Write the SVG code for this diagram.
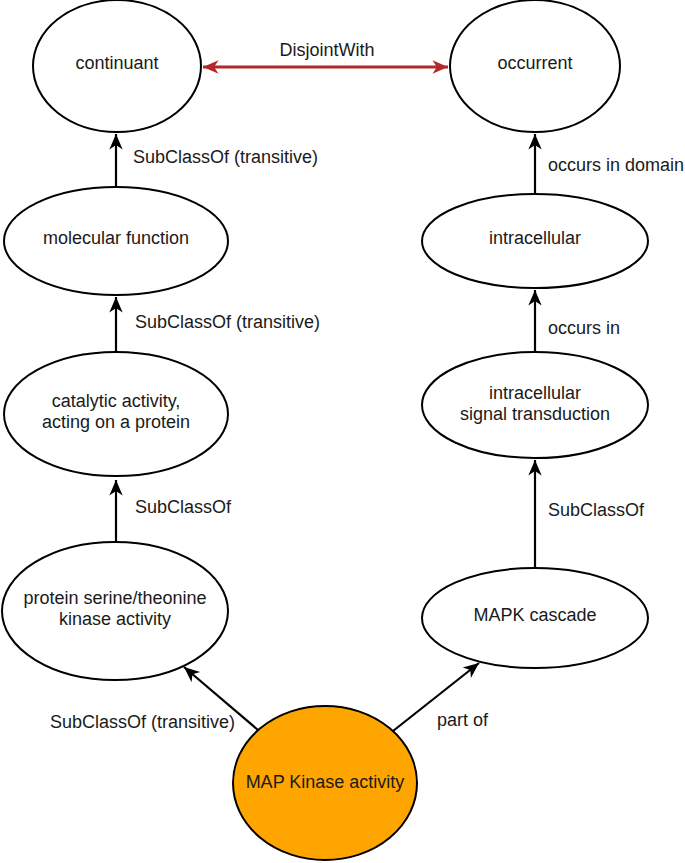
<svg xmlns="http://www.w3.org/2000/svg" width="685" height="863" viewBox="0 0 685 863">
<style>
.n{fill:#fff;stroke:#000;stroke-width:2}
.o{fill:#ffa500;stroke:#000;stroke-width:2}
text{font-family:"Liberation Sans",Arial,sans-serif;font-size:18px;fill:#1a1a1a}
.c{text-anchor:middle}
.e{stroke:#000;stroke-width:2.2;fill:none}
.r{stroke:#b3292b;stroke-width:2.8;fill:none}
</style>
<defs>
<marker id="ah" markerUnits="userSpaceOnUse" markerWidth="20" markerHeight="20" viewBox="-16 -8 18 16" refX="0" refY="0" orient="auto">
<path d="M0,0 L-14,-6 L-10,0 L-14,6 Z" fill="#000"/>
</marker>
<marker id="rh" markerUnits="userSpaceOnUse" markerWidth="20" markerHeight="20" viewBox="-16 -8 18 16" refX="0" refY="0" orient="auto">
<path d="M0,0 L-14,-6 L-10,0 L-14,6 Z" fill="#b3292b"/>
</marker>
<marker id="rs" markerUnits="userSpaceOnUse" markerWidth="20" markerHeight="20" viewBox="-2 -8 18 16" refX="0" refY="0" orient="auto">
<path d="M0,0 L14,-6 L10,0 L14,6 Z" fill="#b3292b"/>
</marker>
</defs>
<g id="connectors">
<line class="r" x1="203" y1="67" x2="448" y2="67" marker-start="url(#rs)" marker-end="url(#rh)"/>
<line class="e" x1="116" y1="187" x2="116" y2="134" marker-end="url(#ah)"/>
<line class="e" x1="116" y1="352" x2="116" y2="297" marker-end="url(#ah)"/>
<line class="e" x1="116" y1="542" x2="116" y2="480" marker-end="url(#ah)"/>
<line class="e" x1="535" y1="195" x2="535" y2="134" marker-end="url(#ah)"/>
<line class="e" x1="535" y1="353" x2="535" y2="290" marker-end="url(#ah)"/>
<line class="e" x1="535" y1="568" x2="535" y2="460" marker-end="url(#ah)"/>
<line class="e" x1="258" y1="730" x2="184" y2="667" marker-end="url(#ah)"/>
<line class="e" x1="393" y1="731" x2="479" y2="663" marker-end="url(#ah)"/>
<text class="c" x="327" y="56">DisjointWith</text>
<text x="133" y="163">SubClassOf (transitive)</text>
<text x="135" y="328">SubClassOf (transitive)</text>
<text x="135" y="513">SubClassOf</text>
<text x="548" y="171">occurs in domain</text>
<text x="548" y="334">occurs in</text>
<text x="548" y="516">SubClassOf</text>
<text x="235" y="728" text-anchor="end">SubClassOf (transitive)</text>
<text x="437" y="726">part of</text>
</g>
<g id="continuant"><ellipse class="n" cx="117" cy="66" rx="84" ry="66"/><text class="c" x="117" y="69">continuant</text></g>
<g id="occurrent"><ellipse class="n" cx="535" cy="66" rx="85" ry="66"/><text class="c" x="535" y="69">occurrent</text></g>
<g id="molecular-function"><ellipse class="n" cx="116" cy="241" rx="112" ry="54"/><text class="c" x="116" y="244">molecular function</text></g>
<g id="intracellular"><ellipse class="n" cx="535" cy="241" rx="113" ry="47"/><text class="c" x="535" y="244">intracellular</text></g>
<g id="catalytic-activity"><ellipse class="n" cx="116" cy="414" rx="112" ry="62"/><text class="c" x="116" y="407">catalytic activity,</text><text class="c" x="116" y="428">acting on a protein</text></g>
<g id="intracellular-signal-transduction"><ellipse class="n" cx="535" cy="405" rx="113" ry="53"/><text class="c" x="535" y="399">intracellular</text><text class="c" x="535" y="420">signal transduction</text></g>
<g id="protein-kinase-activity"><ellipse class="n" cx="115" cy="611" rx="113" ry="69"/><text class="c" x="115" y="604">protein serine/theonine</text><text class="c" x="115" y="625">kinase activity</text></g>
<g id="mapk-cascade"><ellipse class="n" cx="535" cy="618" rx="113" ry="50"/><text class="c" x="535" y="621">MAPK cascade</text></g>
<g id="map-kinase-activity"><ellipse class="o" cx="325" cy="783" rx="92" ry="77"/><text class="c" x="325" y="788">MAP Kinase activity</text></g>
</svg>
